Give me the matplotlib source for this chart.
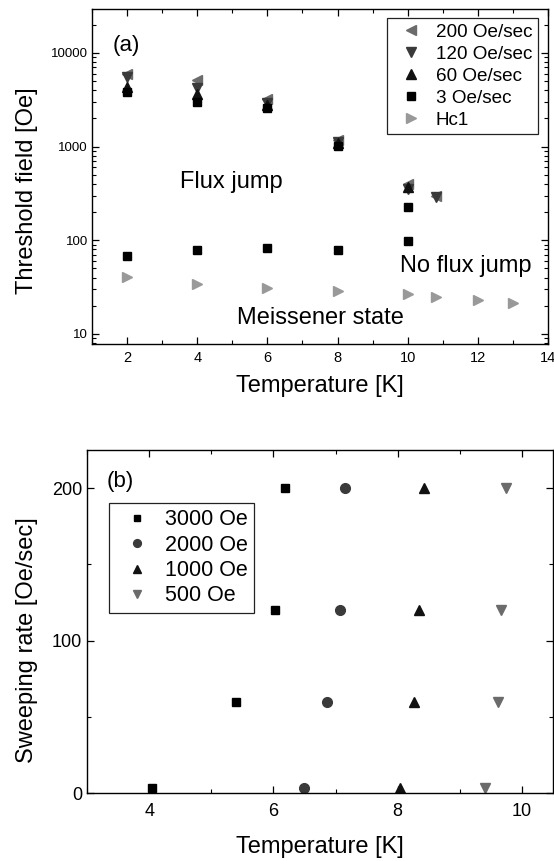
import matplotlib
matplotlib.use("Agg")
import matplotlib.pyplot as plt
from matplotlib import ticker

plt.rcParams['font.family'] = ['Liberation Sans', 'DejaVu Sans']

# ---- Panel (a) data ----
T_main = [2, 4, 6, 8, 10, 10.8]
h200 = [6000, 5200, 3200, 1180, 400, 300]
h120 = [5500, 4200, 2950, 1110, 355, 290]
T60 = [2, 4, 6, 8, 10]
h60 = [4350, 3650, 2750, 1080, 375]
T3 = [2, 4, 6, 8, 10, 2, 4, 6, 8, 10]
h3 = [3800, 3000, 2600, 1010, 225, 68, 79, 82, 79, 98]
T_hc1 = [2, 4, 6, 8, 10, 10.8, 12, 13]
hc1 = [41, 34, 31, 29, 27, 24.5, 23, 21.2]
a_yticks = [10, 100, 1000, 10000]
a_xticks = [2, 4, 6, 8, 10, 12, 14]

# ---- Panel (b) data ----
rates = [200, 120, 60, 3]
T3000 = [6.18, 6.03, 5.40, 4.05]
T2000 = [7.16, 7.07, 6.87, 6.50]
T1000 = [8.42, 8.35, 8.27, 8.03]
T500 = [9.75, 9.67, 9.62, 9.41]
b_yticks = [0, 100, 200]
b_xticks = [4, 6, 8, 10]

W, H = 554, 861
fig = plt.figure(figsize=(W / 100, H / 100), dpi=100)

def fx(px):
    return px / W

def fy(py):
    return 1 - py / H

def style_axes(ax):
    for s in ax.spines.values():
        s.set_linewidth(1.0)
    ax.tick_params(which='both', direction='in', top=True, right=True)
    ax.tick_params(which='major', length=5, width=0.9)
    ax.tick_params(which='minor', length=3, width=0.8)

# ---------- (a) ----------
axa = fig.add_axes([fx(92), fy(344), fx(548) - fx(92), fy(9) - fy(344)])
axa.set_yscale('log')
axa.set_xlim(1, 14)
axa.set_ylim(7.8, 29500)
ms_tri = 7.5
axa.plot(T_main, h200, ls='none', marker='<', ms=ms_tri, color='#6b6b6b', mec='#6b6b6b', label='200 Oe/sec')
axa.plot(T_main, h120, ls='none', marker='v', ms=ms_tri, color='#3a3a3a', mec='#3a3a3a', label='120 Oe/sec')
axa.plot(T60, h60, ls='none', marker='^', ms=ms_tri, color='#111111', mec='#111111', label='60 Oe/sec')
axa.plot(T3, h3, ls='none', marker='s', ms=6, color='#000000', mec='#000000', label='3 Oe/sec')
axa.plot(T_hc1, hc1, ls='none', marker='>', ms=ms_tri, color='#999999', mec='#999999', label='Hc1')
style_axes(axa)
axa.set_xticks(a_xticks)
axa.xaxis.set_minor_locator(ticker.MultipleLocator(1))
axa.set_yticks(a_yticks)
axa.set_yticklabels([str(v) for v in a_yticks])
axa.yaxis.set_minor_locator(ticker.LogLocator(base=10, subs=range(2, 10)))
axa.yaxis.set_minor_formatter(ticker.NullFormatter())
axa.tick_params(axis='y', which='major', labelsize=9.5, pad=3)
axa.tick_params(axis='x', which='major', labelsize=10.5, pad=5)
axa.set_xlabel('Temperature [K]', fontsize=17, labelpad=7)
axa.set_ylabel('Threshold field [Oe]', fontsize=17)
axa.yaxis.set_label_coords(-0.118, 0.457)
axa.text(fx(113), fy(45), '(a)', transform=fig.transFigure, fontsize=16, va='center', ha='left')
axa.text(fx(180), fy(182), 'Flux jump', transform=fig.transFigure, fontsize=17, va='center', ha='left')
axa.text(fx(400), fy(266), 'No flux jump', transform=fig.transFigure, fontsize=17, va='center', ha='left')
axa.text(fx(237), fy(318), 'Meissener state', transform=fig.transFigure, fontsize=17, va='center', ha='left')
lga = axa.legend(loc='upper right', bbox_to_anchor=(fx(538), fy(18)), bbox_transform=fig.transFigure,
                 fontsize=13.6, frameon=True, fancybox=False, framealpha=1, edgecolor='#222222',
                 handlelength=2.0, handletextpad=0.3, labelspacing=0.25, borderpad=0.3,
                 borderaxespad=0, markerscale=0.9)
lga.get_frame().set_linewidth(0.9)

# ---------- (b) ----------
axb = fig.add_axes([fx(87), fy(793), fx(553) - fx(87), fy(450) - fy(793)])
axb.set_xlim(3, 10.5)
axb.set_ylim(0, 225)
axb.plot(T3000, rates, ls='none', marker='s', ms=6, color='#000000', label='3000 Oe')
axb.plot(T2000, rates, ls='none', marker='o', ms=7, color='#3a3a3a', label='2000 Oe')
axb.plot(T1000, rates, ls='none', marker='^', ms=7.5, color='#111111', label='1000 Oe')
axb.plot(T500, rates, ls='none', marker='v', ms=7.5, color='#6b6b6b', label='500 Oe')
style_axes(axb)
axb.set_xticks(b_xticks)
axb.xaxis.set_minor_locator(ticker.MultipleLocator(1))
axb.set_yticks(b_yticks)
axb.yaxis.set_minor_locator(ticker.MultipleLocator(50))
axb.tick_params(which='major', labelsize=13)
axb.tick_params(axis='x', which='major', pad=7)
axb.set_xlabel('Temperature [K]', fontsize=17, labelpad=12)
axb.set_ylabel('Sweeping rate [Oe/sec]', fontsize=17)
axb.yaxis.set_label_coords(-0.105, 0.446)
axb.text(fx(107), fy(482), '(b)', transform=fig.transFigure, fontsize=16, va='center', ha='left')
lgb = axb.legend(loc='upper left', bbox_to_anchor=(fx(109), fy(503)), bbox_transform=fig.transFigure,
                 fontsize=15.5, frameon=True, fancybox=False, framealpha=1, edgecolor='#222222',
                 handlelength=2.0, handletextpad=0.3, labelspacing=0.2, borderpad=0.3,
                 borderaxespad=0, markerscale=0.8)
lgb.get_frame().set_linewidth(0.9)

fig.savefig('out.png', dpi=100)
